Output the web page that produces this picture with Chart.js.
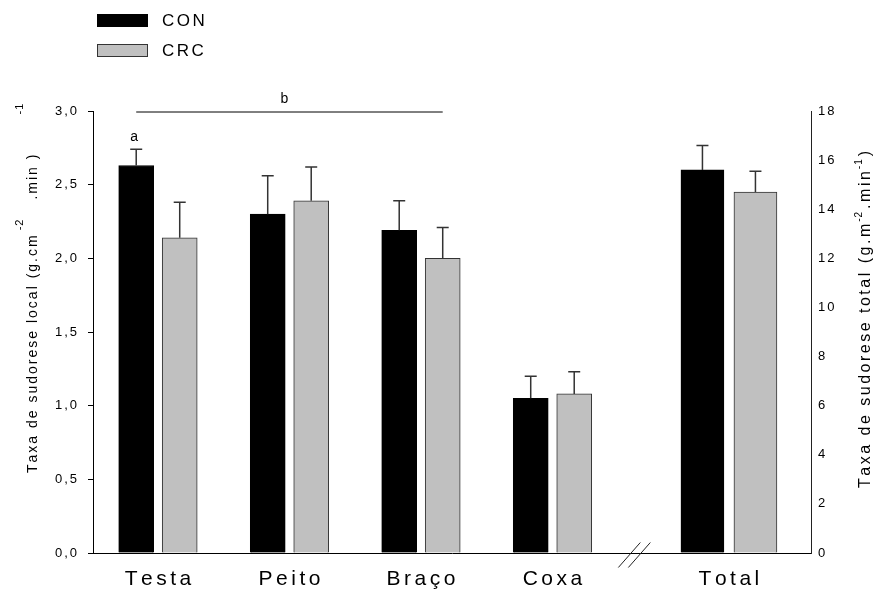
<!DOCTYPE html>
<html>
<head>
<meta charset="utf-8">
<script src="https://cdn.jsdelivr.net/npm/chart.js@4.4.1/dist/chart.umd.min.js"></script>
<style>
  html, body { margin: 0; padding: 0; background: #fff; }
  #wrap { width: 875px; height: 592px; }
</style>
</head>
<body>
<div id="wrap"><canvas id="chart" width="875" height="592"></canvas></div>
<script>
// Local sweat rate by body site (g.cm-2.min-1) and total sweat rate (g.m-2.min-1)
const categories = ['Testa', 'Peito', 'Braço', 'Coxa'];
const totalCategory = 'Total';
const seriesNames = ['CON', 'CRC'];

const conLocal = [2.63, 2.30, 2.19, 1.05];
const crcLocal = [2.14, 2.39, 2.00, 1.08];
const conLocalErr = [0.11, 0.26, 0.20, 0.15];
const crcLocalErr = [0.24, 0.23, 0.21, 0.15];

const conTotal = [15.6];
const crcTotal = [14.7];
const conTotalErr = [1.0];
const crcTotalErr = [0.85];

const localTicks = [0, 0.5, 1.0, 1.5, 2.0, 2.5, 3.0];
const totalTicks = [0, 2, 4, 6, 8, 10, 12, 14, 16, 18];

// category axis layout: one slot per body site, the total group sits after the axis break
const X_MIN = -0.494;
const X_MAX = 4.966;
const TOTAL_SLOT = 4.342;
const SITE_SHIFT = 0.1654;   // half distance between paired bars, in slots
const TOTAL_SHIFT = 0.2015;
const SITE_BAR = 35;         // bar thickness in px
const TOTAL_BAR = 43;

const FONT = 'Arial, "Liberation Sans", Helvetica, sans-serif';
const BLACK = '#000000';
const GREY = '#c0c0c0';
const EDGE = '#333333';

function drawSpaced(ctx, text, x, y, spacing, align) {
  const chars = Array.from(text);
  const widths = chars.map(c => ctx.measureText(c).width);
  const total = widths.reduce((a, b) => a + b, 0) + spacing * (chars.length - 1);
  let pos = align === 'center' ? x - total / 2 : (align === 'right' ? x - total : x);
  ctx.textAlign = 'left';
  chars.forEach((c, i) => { ctx.fillText(c, pos, y); pos += widths[i] + spacing; });
  return total;
}

function drawRotatedTitle(ctx, cx, startY, parts) {
  ctx.save();
  ctx.translate(cx, startY);
  ctx.rotate(-Math.PI / 2);
  ctx.textBaseline = 'middle';
  ctx.fillStyle = BLACK;
  let pos = 0;
  parts.forEach(p => {
    ctx.font = p.size + 'px ' + FONT;
    pos += p.gap || 0;
    const w = drawSpaced(ctx, p.text, pos, -(p.raise || 0), p.spacing, 'left');
    pos += w;
  });
  ctx.restore();
}

const decorations = {
  id: 'decorations',
  beforeDraw(chart) {
    chart.ctx.letterSpacing = '2px';
  },
  afterDatasetsDraw(chart) {
    const ctx = chart.ctx;
    ctx.save();
    ctx.strokeStyle = '#333333';
    ctx.lineWidth = 1.5;
    chart.data.datasets.forEach((ds, di) => {
      const meta = chart.getDatasetMeta(di);
      const yScale = chart.scales[ds.yAxisID];
      meta.data.forEach((bar, i) => {
        const top = yScale.getPixelForValue(ds.data[i].y + ds.errors[i]);
        ctx.beginPath();
        ctx.moveTo(bar.x, bar.y);
        ctx.lineTo(bar.x, top);
        ctx.moveTo(bar.x - 6, top);
        ctx.lineTo(bar.x + 6, top);
        ctx.stroke();
      });
    });
    ctx.restore();
  },
  afterDraw(chart) {
    const ctx = chart.ctx;
    const area = chart.chartArea;
    const xS = chart.scales.x;
    const yL = chart.scales.y;
    const m0 = chart.getDatasetMeta(0);
    const m1 = chart.getDatasetMeta(1);
    const m2 = chart.getDatasetMeta(2);
    ctx.save();
    ctx.letterSpacing = '0px';
    ctx.fillStyle = BLACK;

    // category names under the axis
    ctx.font = '21px ' + FONT;
    ctx.textBaseline = 'alphabetic';
    categories.forEach((name, i) => {
      drawSpaced(ctx, name, xS.getPixelForValue(i), 585, 3.5, 'center');
    });
    drawSpaced(ctx, totalCategory, xS.getPixelForValue(TOTAL_SLOT), 585, 3.5, 'center');

    // axis break marks between the site groups and the total group
    const lastSite = m1.data[categories.length - 1];
    const gapStart = lastSite.x + lastSite.width / 2;
    const gapEnd = m2.data[0].x - m2.data[0].width / 2;
    const bx = (gapStart + gapEnd) / 2 - 2;
    const by = area.bottom + 2;
    ctx.strokeStyle = '#222';
    ctx.lineWidth = 1;
    [-5, 5].forEach(dx => {
      ctx.beginPath();
      ctx.moveTo(bx + dx - 11, by + 12.5);
      ctx.lineTo(bx + dx + 11, by - 12.5);
      ctx.stroke();
    });

    // significance marks
    ctx.font = '14px ' + FONT;
    const aTop = yL.getPixelForValue(conLocal[0] + conLocalErr[0]);
    drawSpaced(ctx, 'a', m0.data[0].x - 2, aTop - 8, 0, 'center');
    const lineY = yL.getPixelForValue(localTicks[localTicks.length - 1]) + 1;
    const x1 = m0.data[0].x;
    const x2 = m1.data[2].x;
    ctx.strokeStyle = BLACK;
    ctx.lineWidth = 1;
    ctx.beginPath();
    ctx.moveTo(x1, lineY);
    ctx.lineTo(x2, lineY);
    ctx.stroke();
    drawSpaced(ctx, 'b', (x1 + x2) / 2 - 5, lineY - 9, 0, 'center');

    // axis titles
    drawRotatedTitle(ctx, 33, 473, [
      { text: 'Taxa de sudorese local (g.cm', size: 14, spacing: 2 },
      { text: '-2', size: 11, spacing: 1, raise: 13, gap: 5 },
      { text: '.min', size: 14, spacing: 2, gap: 20 },
      { text: ')', size: 14, spacing: 2, gap: 8 },
      { text: '-1', size: 11, spacing: 1, raise: 13, gap: 40 }
    ]);
    drawRotatedTitle(ctx, 866, 488, [
      { text: 'Taxa de sudorese total (g.m', size: 16, spacing: 2.5 },
      { text: '-2', size: 10, spacing: 1, raise: 7, gap: 2 },
      { text: '.min', size: 16, spacing: 2.5, gap: 3 },
      { text: '-1', size: 10, spacing: 1, raise: 7, gap: 2 },
      { text: ')', size: 16, spacing: 2.5, gap: 3 }
    ]);

    // legend
    const legendRows = [chart.data.datasets[0], chart.data.datasets[1]];
    ctx.font = '17px ' + FONT;
    ctx.textBaseline = 'middle';
    legendRows.forEach((ds, i) => {
      const top = 14 + i * 30;
      ctx.fillStyle = ds.backgroundColor;
      ctx.fillRect(97, top, 51, 13);
      ctx.strokeStyle = ds.borderColor;
      ctx.lineWidth = 1;
      ctx.strokeRect(97.5, top + 0.5, 50, 12);
      ctx.fillStyle = BLACK;
      drawSpaced(ctx, ds.label, 162, top + 7.5, 2.5, 'left');
    });
    ctx.restore();
  }
};

const setTicks = values => scale => { scale.ticks = values.map(v => ({ value: v })); };

const barStyle = (fill, edge, thickness) => ({
  backgroundColor: fill, borderColor: edge, borderWidth: 1,
  barThickness: thickness, grouped: false
});

new Chart(document.getElementById('chart').getContext('2d'), {
  type: 'bar',
  data: {
    datasets: [
      Object.assign({
        label: seriesNames[0], xAxisID: 'x', yAxisID: 'y',
        data: conLocal.map((v, i) => ({ x: i - SITE_SHIFT, y: v })), errors: conLocalErr
      }, barStyle(BLACK, BLACK, SITE_BAR)),
      Object.assign({
        label: seriesNames[1], xAxisID: 'x', yAxisID: 'y',
        data: crcLocal.map((v, i) => ({ x: i + SITE_SHIFT, y: v })), errors: crcLocalErr
      }, barStyle(GREY, EDGE, SITE_BAR)),
      Object.assign({
        label: seriesNames[0] + ' ' + totalCategory, xAxisID: 'x', yAxisID: 'y2',
        data: conTotal.map(v => ({ x: TOTAL_SLOT - TOTAL_SHIFT, y: v })), errors: conTotalErr
      }, barStyle(BLACK, BLACK, TOTAL_BAR)),
      Object.assign({
        label: seriesNames[1] + ' ' + totalCategory, xAxisID: 'x', yAxisID: 'y2',
        data: crcTotal.map(v => ({ x: TOTAL_SLOT + TOTAL_SHIFT, y: v })), errors: crcTotalErr
      }, barStyle(GREY, EDGE, TOTAL_BAR))
    ]
  },
  options: {
    responsive: false,
    animation: false,
    layout: { padding: { top: 111, left: 0, right: 0, bottom: 0 } },
    plugins: { legend: { display: false }, tooltip: { enabled: false } },
    scales: {
      x: {
        type: 'linear', position: 'bottom', min: X_MIN, max: X_MAX, offset: false,
        afterBuildTicks: setTicks(categories.map((_, i) => i)),
        ticks: { display: false },
        grid: { display: false },
        border: { display: true, color: BLACK, width: 1 },
        afterFit: s => { s.height = 39; }
      },
      y: {
        type: 'linear', position: 'left', min: 0, max: 3,
        afterBuildTicks: setTicks(localTicks),
        ticks: {
          callback: v => v.toFixed(1).replace('.', ','),
          font: { family: FONT, size: 13 }, color: BLACK, padding: 9
        },
        grid: { drawOnChartArea: false, drawTicks: true, tickLength: 5, color: BLACK },
        border: { display: true, color: BLACK, width: 1 },
        afterFit: s => { s.width = 93; }
      },
      y2: {
        type: 'linear', position: 'right', min: 0, max: 18,
        afterBuildTicks: setTicks(totalTicks),
        ticks: {
          callback: v => String(v),
          font: { family: FONT, size: 13 }, color: BLACK, padding: 7
        },
        grid: { drawOnChartArea: false, drawTicks: false },
        border: { display: true, color: '#222', width: 1 },
        afterFit: s => { s.width = 64; }
      }
    }
  },
  plugins: [decorations]
});
</script>
</body>
</html>
